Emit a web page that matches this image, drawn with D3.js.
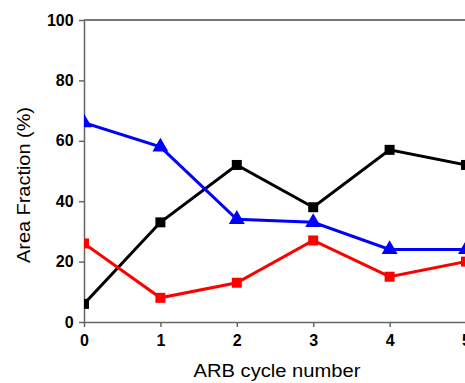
<!DOCTYPE html>
<html>
<head>
<meta charset="utf-8">
<script src="https://cdn.jsdelivr.net/npm/d3@7"></script>
<style>
body{margin:0;background:#fff;}
text{font-family:Arial,"Liberation Sans",sans-serif;}
</style>
</head>
<body>
<div id="chart"></div>
<script>
var cycles = [0, 1, 2, 3, 4, 5];
var blackVals = [6, 33, 52, 38, 57, 52];
var blueVals = [66, 58, 34, 33, 24, 24];
var redVals = [26, 8, 13, 27, 15, 20];
var yTicks = [0, 20, 40, 60, 80, 100];

var w = 465, h = 383;
var mLeft = 84, mTop = 20, mBottom = 322;
var x = d3.scaleLinear().domain([0, 5]).range([mLeft, 466]);
var y = d3.scaleLinear().domain([0, 100]).range([mBottom, mTop]);

var svg = d3.select('#chart').append('svg')
	.attr('width', w).attr('height', h);

svg.append('defs').append('clipPath').attr('id', 'clip')
	.append('rect').attr('x', mLeft).attr('y', mTop - 10)
	.attr('width', 500).attr('height', mBottom - mTop + 10);

// axes
var ax = svg.append('g').attr('transform', 'translate(0,' + mBottom + ')')
	.call(d3.axisBottom(x).tickValues(cycles).tickFormat(d3.format('d')).tickSize(5).tickSizeOuter(0));
var ay = svg.append('g').attr('transform', 'translate(' + mLeft + ',0)')
	.call(d3.axisLeft(y).tickValues(yTicks).tickSize(5).tickSizeOuter(0));
[ax, ay].forEach(function(g){
	g.select('.domain').attr('stroke', '#666').attr('stroke-width', 1.5);
	g.selectAll('.tick line').attr('stroke', '#666').attr('stroke-width', 1.5);
	g.selectAll('.tick text').attr('fill', '#000')
		.style('font-size', '16px').style('font-weight', 'bold');
});
ax.selectAll('.tick text').attr('dy', '1.0em');
ay.selectAll('.tick text').attr('dx', '-0.15em');

// top frame line
svg.append('line').attr('x1', mLeft).attr('x2', w).attr('y1', mTop).attr('y2', mTop)
	.attr('stroke', '#777').attr('stroke-width', 2);

var series = [
	{vals: blackVals, color: '#000', shape: d3.symbolSquare, size: 100},
	{vals: blueVals, color: '#0000ff', shape: d3.symbolTriangle, size: 110},
	{vals: redVals, color: '#ff0000', shape: d3.symbolSquare, size: 100}
];

var plot = svg.append('g').attr('clip-path', 'url(#clip)');
var line = d3.line().x(function(d, i){ return x(cycles[i]); }).y(function(d){ return y(d); });

series.forEach(function(s){
	plot.append('path').datum(s.vals)
		.attr('d', line).attr('fill', 'none')
		.attr('stroke', s.color).attr('stroke-width', 3);
	plot.selectAll(null).data(s.vals).enter().append('path')
		.attr('d', d3.symbol().type(s.shape).size(s.size))
		.attr('transform', function(d, i){ return 'translate(' + x(cycles[i]) + ',' + y(d) + ')'; })
		.attr('fill', s.color);
});

// titles
svg.append('text').attr('x', 277).attr('y', 377).attr('text-anchor', 'middle')
	.attr('textLength', 167).attr('lengthAdjust', 'spacingAndGlyphs')
	.style('font-size', '18px').text('ARB cycle number');
svg.append('text').attr('transform', 'translate(30,185) rotate(-90)')
	.attr('text-anchor', 'middle')
	.attr('textLength', 156).attr('lengthAdjust', 'spacingAndGlyphs')
	.style('font-size', '18px').text('Area Fraction (%)');
</script>
</body>
</html>
